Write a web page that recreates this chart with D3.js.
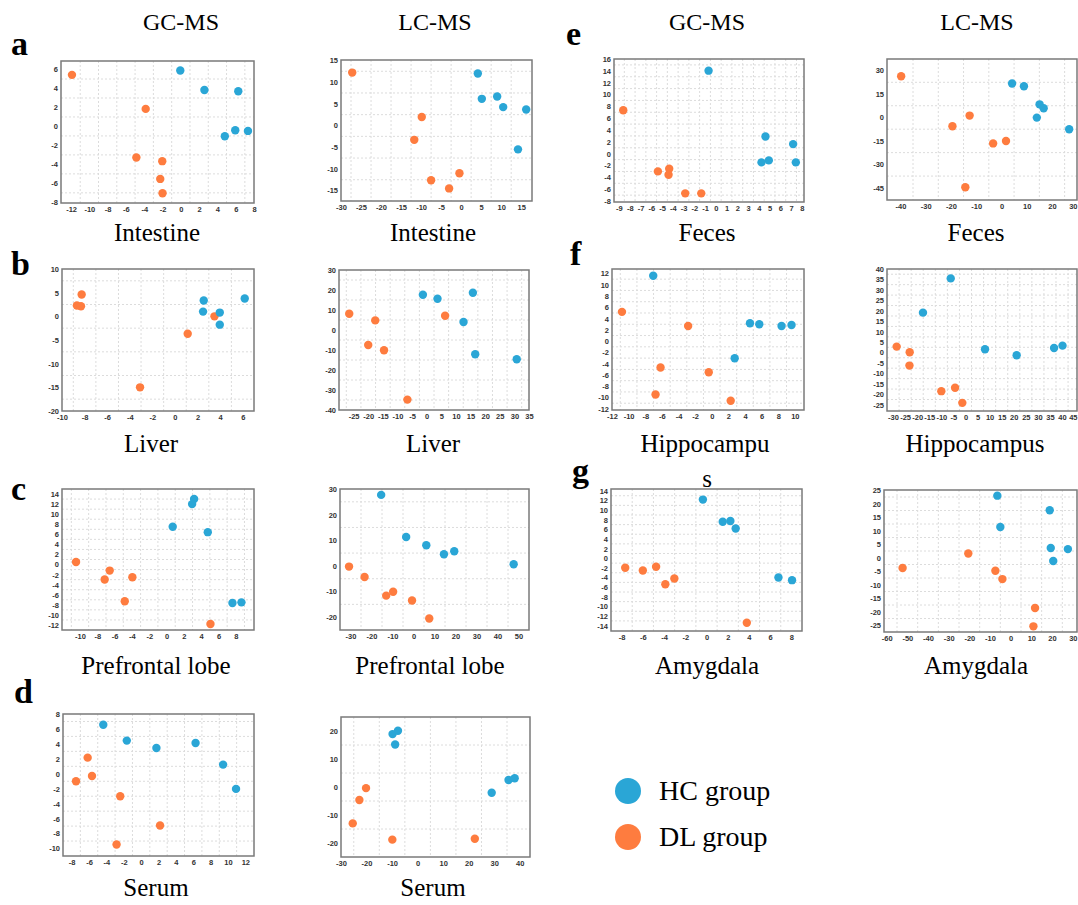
<!DOCTYPE html>
<html><head><meta charset="utf-8">
<script src="https://cdn.jsdelivr.net/npm/d3@7"></script>
<style>body{margin:0;background:#fff}svg{display:block}</style>
</head><body>
<svg id="c" width="1078" height="905"></svg>
<script>
// ---------------- data (PCA-like scores, HC = healthy control, DL = model group) ----------------
const intestineGC_HC = [[-0.06,5.9],[2.58,3.85],[6.28,3.71],[5.95,-0.4],[7.34,-0.47],[4.81,-1.03]];
const intestineGC_DL = [[-11.9,5.44],[-3.84,1.85],[-4.86,-3.28],[-2.03,-3.66],[-2.25,-5.53],[-2.0,-7.04]];
const intestineLC_HC = [[4.17,12.0],[5.17,6.15],[9.0,6.7],[10.5,4.24],[16.25,3.7],[14.2,-5.5]];
const intestineLC_DL = [[-27.2,12.2],[-9.83,1.95],[-11.7,-3.3],[-7.5,-12.6],[-3.0,-14.5],[-0.42,-11.0]];
const fecesGC_HC = [[-0.67,14.03],[4.62,2.9],[7.19,1.62],[4.93,-1.13],[4.25,-1.47],[7.44,-1.47]];
const fecesGC_DL = [[-8.6,7.35],[-4.33,-2.54],[-5.38,-2.99],[-4.39,-3.55],[-2.84,-6.7],[-1.35,-6.7]];
const fecesLC_HC = [[4.2,21.7],[8.9,20.0],[15.1,8.4],[16.7,5.85],[14.0,-0.1],[26.8,-7.5]];
const fecesLC_DL = [[-39.7,26.4],[-12.6,1.2],[-19.4,-5.6],[-3.3,-16.6],[1.8,-15.1],[-14.3,-44.6]];
const liverGC_HC = [[2.55,3.34],[2.49,1.0],[3.97,0.79],[3.97,-1.76],[6.18,3.77]];
const liverGC_DL = [[-8.26,4.62],[-8.68,2.28],[-8.32,2.14],[-3.09,-15.0],[1.13,-3.67],[3.5,0.0]];
const liverLC_HC = [[-1.3,17.6],[3.7,15.6],[15.8,18.6],[12.6,4.0],[16.6,-12.1],[30.8,-14.6]];
const liverLC_DL = [[-26.5,8.1],[-17.6,4.8],[-20.0,-7.5],[-14.6,-10.1],[6.3,7.1],[-6.6,-34.8]];
const hippoGC_HC = [[-7.04,11.6],[4.6,3.17],[5.72,3.0],[8.4,2.7],[9.6,2.88],[2.76,-3.03]];
const hippoGC_DL = [[-10.8,5.2],[-2.84,2.7],[-6.16,-4.67],[-0.36,-5.5],[-6.76,-9.46],[2.28,-10.57]];
const hippoLC_HC = [[-6.1,35.5],[-17.6,19.1],[8.1,1.56],[21.2,-1.3],[36.7,2.2],[40.2,3.3]];
const hippoLC_DL = [[-28.5,2.84],[-23.1,0.13],[-23.2,-6.25],[-4.3,-16.9],[-10.0,-18.5],[-1.3,-24.1]];
const pfcGC_HC = [[3.18,13.0],[2.95,12.0],[0.71,7.49],[4.76,6.43],[7.61,-7.64],[8.65,-7.51]];
const pfcGC_DL = [[-10.46,0.51],[-6.57,-1.2],[-7.15,-2.97],[-3.95,-2.51],[-4.83,-7.3],[5.07,-11.8]];
const pfcLC_HC = [[-15.4,27.7],[-3.5,11.3],[6.1,8.05],[14.5,4.55],[19.4,5.7],[47.7,0.65]];
const pfcLC_DL = [[-30.7,-0.26],[-23.3,-4.3],[-13.0,-11.6],[-9.7,-10.1],[-0.7,-13.5],[7.5,-20.5]];
const serumGC_HC = [[-4.36,6.57],[-1.65,4.44],[1.76,3.46],[6.27,4.12],[9.44,1.23],[10.93,-2.02]];
const serumGC_DL = [[-6.16,2.16],[-5.66,-0.29],[-7.5,-1.0],[-2.41,-3.0],[2.18,-6.92],[-2.83,-9.46]];
const serumLC_HC = [[-9.8,18.9],[-7.7,20.1],[-8.8,15.2],[29.0,-2.07],[35.6,2.5],[38.0,3.1]];
const serumLC_DL = [[-20.2,-0.4],[-22.8,-4.66],[-25.4,-13.0],[-9.9,-18.8],[22.4,-18.5]];
const amygGC_HC = [[-0.34,12.2],[1.53,7.6],[2.25,7.75],[2.75,6.2],[6.78,-4.0],[8.06,-4.54]];
const amygGC_DL = [[-7.66,-1.97],[-6.0,-2.53],[-4.75,-1.76],[-3.03,-4.2],[-3.88,-5.4],[3.8,-13.4]];
const amygLC_HC = [[-6.45,23.0],[-5.0,11.4],[18.9,17.6],[19.4,3.6],[27.7,3.2],[20.6,-1.2]];
const amygLC_DL = [[-52.3,-3.8],[-20.5,1.6],[-7.4,-4.8],[-4.0,-7.9],[11.8,-18.6],[11.0,-25.4]];

// tick labels
const intestineGC_xt = [-12,-10,-8,-6,-4,-2,0,2,4,6,8];
const intestineGC_yt = [-8,-6,-4,-2,0,2,4,6];
const intestineLC_xt = [-30,-25,-20,-15,-10,-5,0,5,10,15];
const intestineLC_yt = [-15,-10,-5,0,5,10,15];
const fecesGC_xt = [-9,-8,-7,-6,-5,-4,-3,-2,-1,0,1,2,3,4,5,6,7,8];
const fecesGC_yt = [-8,-6,-4,-2,0,2,4,6,8,10,12,14,16];
const fecesLC_xt = [-40,-30,-20,-10,0,10,20,30];
const fecesLC_yt = [-45,-30,-15,0,15,30];
const liverGC_xt = [-10,-8,-6,-4,-2,0,2,4,6];
const liverGC_yt = [-20,-15,-10,-5,0,5,10];
const liverLC_xt = [-25,-20,-15,-10,-5,0,5,10,15,20,25,30,35];
const liverLC_yt = [-40,-30,-20,-10,0,10,20,30];
const hippoGC_xt = [-12,-10,-8,-6,-4,-2,0,2,4,6,8,10];
const hippoGC_yt = [-12,-10,-8,-6,-4,-2,0,2,4,6,8,10,12];
const hippoLC_xt = [-30,-25,-20,-15,-10,-5,0,5,10,15,20,25,30,35,40,45];
const hippoLC_yt = [-25,-20,-15,-10,-5,0,5,10,15,20,25,30,35,40];
const pfcGC_xt = [-10,-8,-6,-4,-2,0,2,4,6,8];
const pfcGC_yt = [-12,-10,-8,-6,-4,-2,0,2,4,6,8,10,12,14];
const pfcLC_xt = [-30,-20,-10,0,10,20,30,40,50];
const pfcLC_yt = [-20,-10,0,10,20,30];
const serumGC_xt = [-8,-6,-4,-2,0,2,4,6,8,10,12];
const serumGC_yt = [-10,-8,-6,-4,-2,0,2,4,6,8];
const serumLC_xt = [-30,-20,-10,0,10,20,30,40];
const serumLC_yt = [-20,-10,0,10,20];
const amygGC_xt = [-8,-6,-4,-2,0,2,4,6,8];
const amygGC_yt = [-14,-12,-10,-8,-6,-4,-2,0,2,4,6,8,10,12,14];
const amygLC_xt = [-60,-50,-40,-30,-20,-10,0,10,20,30];
const amygLC_yt = [-25,-20,-15,-10,-5,0,5,10,15,20,25];

const groupNames = ["HC group","DL group"];
const titles = ["GC-MS","LC-MS"];

// ---------------- drawing ----------------
const BLUE = "#2aa6d6", ORANGE = "#fe7c3f";
const svg = d3.select("#c");

const panels = [
  {box:[61,61,254,203], xd:[-13.1,8], yd:[-8.07,6.9], xt:intestineGC_xt, yt:intestineGC_yt, hc:intestineGC_HC, dl:intestineGC_DL},
  {box:[341,60,532,201], xd:[-30,17.7], yd:[-17.4,15.1], xt:intestineLC_xt, yt:intestineLC_yt, hc:intestineLC_HC, dl:intestineLC_DL},
  {box:[614,59,804,202], xd:[-9.46,8.2], yd:[-8.16,16], xt:fecesGC_xt, yt:fecesGC_yt, hc:fecesGC_HC, dl:fecesGC_DL},
  {box:[887,59,1077,200], xd:[-45.3,29.9], yd:[-52.8,37.4], xt:fecesLC_xt, yt:fecesLC_yt, hc:fecesLC_HC, dl:fecesLC_DL},
  {box:[62,269,254,411], xd:[-10,7], yd:[-20,10], xt:liverGC_xt, yt:liverGC_yt, hc:liverGC_HC, dl:liverGC_DL},
  {box:[339,270,529,410], xd:[-30,35], yd:[-40,30], xt:liverLC_xt, yt:liverLC_yt, hc:liverLC_HC, dl:liverLC_DL},
  {box:[612,269,804,410], xd:[-12,11.1], yd:[-12.2,12.8], xt:hippoGC_xt, yt:hippoGC_yt, hc:hippoGC_HC, dl:hippoGC_DL},
  {box:[887,269,1077,411], xd:[-32.5,46.2], yd:[-28,40], xt:hippoLC_xt, yt:hippoLC_yt, hc:hippoLC_HC, dl:hippoLC_DL},
  {box:[62,489,254,630], xd:[-12.08,10.1], yd:[-13,15], xt:pfcGC_xt, yt:pfcGC_yt, hc:pfcGC_HC, dl:pfcGC_DL},
  {box:[340,489,529,630], xd:[-35,55], yd:[-25,30], xt:pfcLC_xt, yt:pfcLC_yt, hc:pfcLC_HC, dl:pfcLC_DL},
  {box:[611,489,802,631], xd:[-9,9], yd:[-15.1,14.4], xt:amygGC_xt, yt:amygGC_yt, hc:amygGC_HC, dl:amygGC_DL},
  {box:[884,490,1077,632], xd:[-61.3,32.1], yd:[-27.5,25.1], xt:amygLC_xt, yt:amygLC_yt, hc:amygLC_HC, dl:amygLC_DL},
  {box:[63,714,254,856], xd:[-9,13], yd:[-11,8], xt:serumGC_xt, yt:serumGC_yt, hc:serumGC_HC, dl:serumGC_DL},
  {box:[341,717,530,857], xd:[-30,44], yd:[-25,25], xt:serumLC_xt, yt:serumLC_yt, hc:serumLC_HC, dl:serumLC_DL}
];

function gridVals(ticks, dom){
  const s = ticks[1]-ticks[0];
  let v = ticks[0] - s/2;
  while (v - s > dom[0]) v -= s;
  const out = [];
  for (; v < dom[1]; v += s) {
    const span = dom[1]-dom[0];
    if (v > dom[0] + span*0.01 && v < dom[1] - span*0.01) out.push(v);
  }
  return out;
}

function drawPanel(p){
  const [L,T,R,B] = p.box;
  const x = d3.scaleLinear().domain(p.xd).range([L,R]);
  const y = d3.scaleLinear().domain(p.yd).range([B,T]);
  const g = svg.append("g");
  const grid = g.append("g").attr("stroke","#dcdcdc").attr("stroke-width",1).attr("stroke-dasharray","2,2");
  gridVals(p.xt, p.xd).forEach(v => grid.append("line").attr("x1",x(v)).attr("x2",x(v)).attr("y1",T).attr("y2",B));
  gridVals(p.yt, p.yd).forEach(v => grid.append("line").attr("y1",y(v)).attr("y2",y(v)).attr("x1",L).attr("x2",R));

  const ax = g.append("g").attr("transform",`translate(0,${B})`)
    .call(d3.axisBottom(x).tickValues(p.xt).tickSize(0).tickPadding(4).tickFormat(d=>String(d)));
  const ay = g.append("g").attr("transform",`translate(${L},0)`)
    .call(d3.axisLeft(y).tickValues(p.yt).tickSize(0).tickPadding(3).tickFormat(d=>String(d)));
  [ax,ay].forEach(a=>{
    a.select(".domain").remove();
    a.selectAll("text").attr("font-family","'Liberation Sans', Arial, sans-serif")
      .attr("font-size","7.5px").attr("font-weight","bold").attr("fill","#333");
  });
  // keep a label that would be clipped by the page edge fully visible
  ax.selectAll(".tick").each(function(d){
    if (x(d) + 6 > 1078) d3.select(this).select("text").attr("text-anchor","end").attr("x",1077 - x(d));
  });

  g.append("rect").attr("x",L).attr("y",T).attr("width",R-L).attr("height",B-T)
    .attr("fill","none").attr("stroke","#7a7a7a").attr("stroke-width",1.5);

  g.append("g").selectAll("circle").data(p.dl).join("circle")
    .attr("cx",d=>x(d[0])).attr("cy",d=>y(d[1])).attr("r",4.2).attr("fill",ORANGE);
  g.append("g").selectAll("circle").data(p.hc).join("circle")
    .attr("cx",d=>x(d[0])).attr("cy",d=>y(d[1])).attr("r",4.2).attr("fill",BLUE);
}
panels.forEach(drawPanel);

const serif = "'Liberation Serif','Times New Roman',serif";
function txt(s, xx, yy, size, anchor, weight){
  svg.append("text").attr("x",xx).attr("y",yy).attr("font-family",serif)
    .attr("font-size",size).attr("text-anchor",anchor||"middle")
    .attr("font-weight",weight||"normal").attr("fill","#000").text(s);
}
// column titles
txt(titles[0],181,30,24); txt(titles[1],435,30,24);
txt(titles[0],707,30,24); txt(titles[1],977,30,24);
// panel letters
[["a",11,55],["b",11,275],["c",11,500],["d",14,703],["e",566,45],["f",570,265],["g",572,482]]
  .forEach(d=>txt(d[0],d[1],d[2],34,"start","bold"));
// sample labels
txt("Intestine",157,241,25); txt("Intestine",433,241,25);
txt("Feces",707,241,25); txt("Feces",976,241,25);
txt("Liver",151,452,25); txt("Liver",433,452,25);
txt("Hippocampu",705,452,25); txt("s",707,487,25); txt("Hippocampus",975,452,25);
txt("Prefrontal lobe",156,674,25); txt("Prefrontal lobe",430,674,25);
txt("Amygdala",707,674,25); txt("Amygdala",976,674,25);
txt("Serum",156,896,25); txt("Serum",433,896,25);

// legend
const leg = svg.append("g");
[[BLUE,groupNames[0],791],[ORANGE,groupNames[1],837]].forEach(d=>{
  leg.append("circle").attr("cx",628).attr("cy",d[2]).attr("r",13).attr("fill",d[0]);
  txt(d[1],659,d[2]+9,28,"start");
});
</script>
</body></html>
